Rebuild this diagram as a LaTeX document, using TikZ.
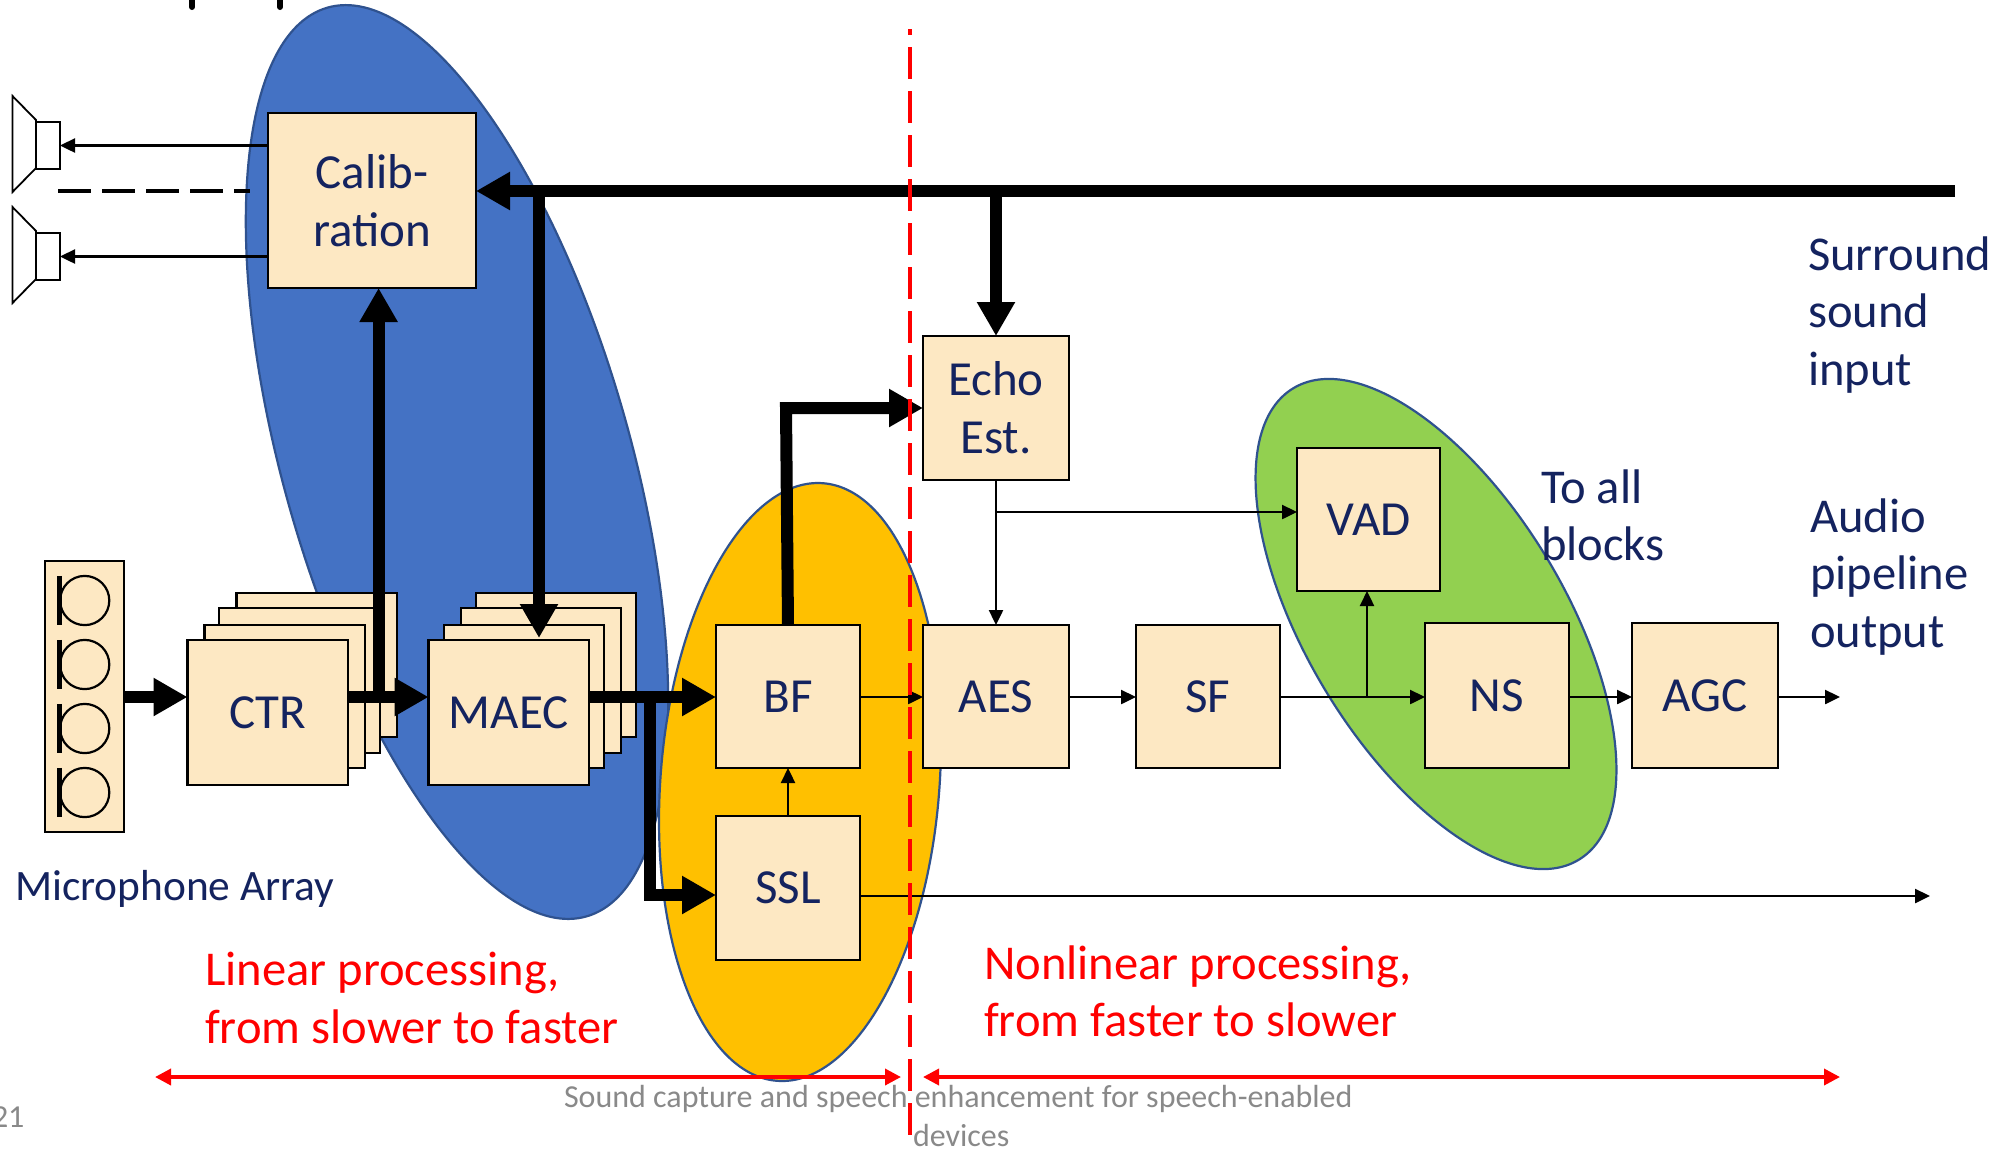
\documentclass[tikz,border=0pt]{standalone}
\usepackage{fontspec}
\setmainfont{Carlito}
\usetikzlibrary{arrows.meta,calc}
\definecolor{boxfill}{HTML}{FDE8C3}
\definecolor{navy}{HTML}{14235F}
\definecolor{blueell}{HTML}{4472C4}
\definecolor{orangeell}{HTML}{FFC000}
\definecolor{greenell}{HTML}{92D050}
\definecolor{ellline}{HTML}{2F528F}
\definecolor{greytxt}{HTML}{898989}
\tikzset{
  x=0.5pt,y=-0.5pt,
  blockbox/.style={draw=black,line width=1.2pt,fill=boxfill,inner sep=0pt,outer sep=0pt,text=navy,font=\fontsize{24.5}{29}\selectfont,align=center},
  lbl/.style={inner sep=0pt,outer sep=0pt,anchor=west,text=navy,font=\fontsize{24.3}{28.7}\selectfont,align=left},
  redlbl/.style={lbl,text=red},
  greylbl/.style={inner sep=0pt,outer sep=0pt,anchor=base west,text=greytxt,font=\fontsize{16}{19}\selectfont},
  thinarrow/.style={draw=black,line width=1.2pt,-{Triangle[length=7.5pt,width=7pt]}},
  thickarrow/.style={draw=black,line width=6pt,-{Triangle[length=17pt,width=18pt]}},
  thickline/.style={draw=black,line width=6pt},
  redarrow/.style={draw=red,line width=1.8pt,{Triangle[length=8pt,width=8pt]}-{Triangle[length=8pt,width=8pt]}},
  ell/.style={draw=ellline,line width=1.1pt},
  spk/.style={draw=black,line width=0.9pt},
}
\newcommand{\blk}[6]{\node[blockbox,minimum width=#3*0.5pt-#2*0.5pt,minimum height=#5*0.5pt-#4*0.5pt] (#1) at ({(#2+#3)/2},{(#4+#5)/2}) {#6};}
\begin{document}
\begin{tikzpicture}
\useasboundingbox (0,0) rectangle (2013,1148);
\clip (0,0) rectangle (2013,1148);
% ellipses
\begin{scope}[shift={(457,462)},rotate=15.9]
\draw[ell,fill=blueell] (0,0) ellipse [x radius=86.75pt,y radius=236.25pt];
\end{scope}
\begin{scope}[shift={(800,782)},rotate=-4.4]
\draw[ell,fill=orangeell] (0,0) ellipse [x radius=69.75pt,y radius=149.85pt];
\end{scope}
\begin{scope}[shift={(1436,624)},rotate=31.2]
\draw[ell,fill=greenell] (0,0) ellipse [x radius=64.5pt,y radius=137.8pt];
\end{scope}
% title remnants
\draw[line width=3pt,line cap=round] (192,-5) -- (192,7);
\draw[line width=3pt,line cap=round] (280,-5) -- (280,7);
% speakers
\foreach \n/\yy in {1/0,2/111}{
  \draw[spk,fill=white] (36,120+\yy) -- (12.5,96+\yy) -- (12.5,192+\yy) -- (36,168+\yy) -- cycle;
  \node[spk,fill=white,inner sep=0pt,outer sep=0pt,minimum width=12pt,minimum height=23.5pt] (spk\n) at (48,145.5+\yy) {};
}
% mic array
\blk{mic}{45}{124}{561}{832}{}
\foreach \n/\yy in {1/600.5,2/664.5,3/728.5,4/792.5}{
  \draw[line width=1.1pt] (84.7,\yy) circle [radius=12.3pt];
  \draw[line width=2.6pt] (59.5,\yy-24.7) -- (59.5,\yy+24.7);
}
% stacks
\blk{ctrd}{236.6}{397}{593}{737}{}
\blk{ctrc}{219}{380}{608}{753}{}
\blk{ctrb}{204.5}{365}{625}{768}{}
\blk{ctr}{187.5}{348}{640}{785}{CTR}
\blk{maecd}{476}{636}{593}{737}{}
\blk{maecc}{461}{621}{608}{753}{}
\blk{maecb}{444}{604}{625}{768}{}
\blk{maec}{428.6}{589}{640}{785}{MAEC}
% blocks
\blk{calib}{268}{476}{113}{288}{Calib-\\ration}
\blk{bf}{716}{860}{625}{768}{BF}
\blk{ssl}{716}{860}{816}{960}{SSL}
\blk{echo}{923}{1069}{336}{480}{Echo\\Est.}
\blk{aes}{923}{1069}{625}{768}{AES}
\blk{sf}{1136}{1280}{625}{768}{SF}
\blk{vad}{1297}{1440}{448}{591}{VAD}
\blk{ns}{1425}{1569}{623}{768}{NS}
\blk{agc}{1632}{1778}{623}{768}{AGC}
% helper coordinates
\coordinate (busend) at (1955,191);
\coordinate (buswest) at (calib.east |- busend);
\coordinate (busa) at (539,191);
\coordinate (busb) at (echo.north |- busend);
\coordinate (lvl) at (0,697);
\coordinate (ctrout) at (ctr.east |- lvl);
\coordinate (maecin) at (maec.west |- lvl);
\coordinate (maecout) at (maec.east |- lvl);
\coordinate (calibup) at (378.6,697);
\coordinate (split) at (650,697);
\coordinate (corner) at (650,895);
\coordinate (sslin) at (ssl.west |- corner);
\coordinate (bfin) at (bf.west |- lvl);
\coordinate (bftop) at (bf.north);
\coordinate (bfbend) at (786,408);
\coordinate (echoin) at (echo.west |- bfbend);
\coordinate (branchv) at (1367,697);
\coordinate (branche) at (echo.south |- 0,512);
\coordinate (out) at (1840,697);
\coordinate (sslout) at (ssl.east |- 0,896);
\coordinate (sslend) at (1930,896);
% thin arrows
\draw[thinarrow] (calib.west |- spk1) -- (spk1.east);
\draw[thinarrow] (calib.west |- spk2) -- (spk2.east);
\draw[thinarrow] (bf.east |- lvl) -- (aes.west |- lvl);
\draw[thinarrow] (aes.east |- lvl) -- (sf.west |- lvl);
\draw[thinarrow] (sf.east |- lvl) -- (ns.west |- lvl);
\draw[thinarrow] (branchv) -- (branchv |- vad.south);
\draw[thinarrow] (ns.east |- lvl) -- (agc.west |- lvl);
\draw[thinarrow] (agc.east |- lvl) -- (out);
\draw[thinarrow] (echo.south) -- (aes.north);
\draw[thinarrow] (branche) -- (vad.west |- branche);
\draw[thinarrow] (ssl.north) -- (bf.south);
\draw[thinarrow] (sslout) -- (sslend);
% dashed line to speakers
\coordinate (dasha) at (250,191);
\coordinate (dashb) at (58,191);
\draw[line width=2pt,dash pattern=on 16.5pt off 5.5pt] (dashb) -- (dasha);
% thick
\draw[thickline] (busend) -- (busa);
\draw[thickarrow] (busa) -- (buswest);
\draw[thickarrow] (busa) -- (539,638);
\draw[thickarrow] (busb) -- (echo.north);
\draw[thickarrow] (mic.east |- lvl) -- (ctr.west |- lvl);
\draw[thickarrow] (ctrout) -- (maecin);
\draw[thickarrow] (calibup) -- (calibup |- calib.south);
\draw[thickarrow] (maecout) -- (bfin);
\draw[thickarrow,rounded corners=0pt] (split) -- (corner) -- (sslin);
\draw[thickarrow] (bftop) -- (bfbend) -- (echoin);
% red
\draw[red,line width=2pt,dash pattern=on 16pt off 6pt,dash phase=13pt] (910,29) -- (910,1135);
\coordinate (la) at (155,1077);
\coordinate (lb) at (901,1077);
\coordinate (ra) at (923,1077);
\coordinate (rb) at (1840,1077);
\draw[redarrow] (la) -- (lb);
\draw[redarrow] (ra) -- (rb);
% labels
\node[lbl] (lsur) at (1808,315) {Surround\\sound\\input};
\node[lbl] (lout) at (1810,577) {Audio\\pipeline\\output};
\node[lbl] (lall) at (1541,515) {To all\\blocks};
\node[lbl,font=\fontsize{21.7}{26}\selectfont] (lmic) at (15,889) {Microphone Array};
\node[redlbl] (llin) at (205,998) {Linear processing,\\from slower to faster};
\node[redlbl] (lnon) at (984,991) {Nonlinear processing,\\from faster to slower};
\node[greylbl] (lg1) at (564,1107) {Sound capture and speech enhancement for speech-enabled};
\node[greylbl] (lg2) at (913,1146) {devices};
\node[greylbl] (lnum) at (-8,1127) {21};
\end{tikzpicture}
\end{document}
